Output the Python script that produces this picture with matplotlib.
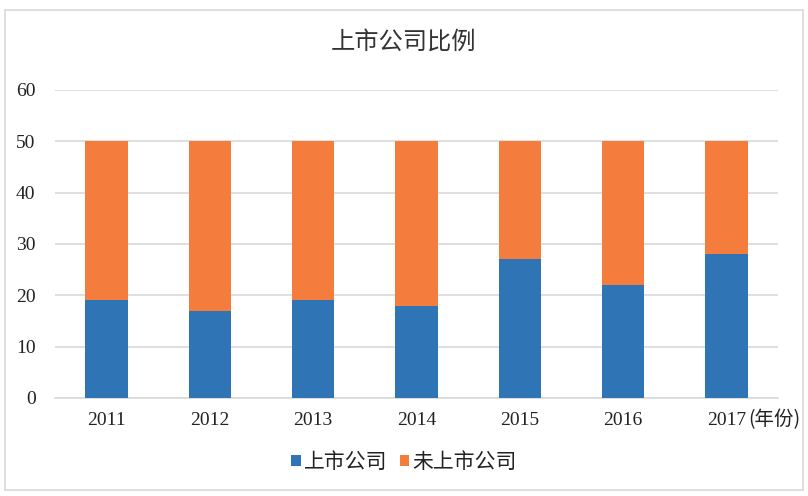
import matplotlib
matplotlib.use("Agg")
import matplotlib.pyplot as plt
from matplotlib.patches import Rectangle

years = ["2011", "2012", "2013", "2014", "2015", "2016", "2017"]
listed = [19, 17, 19, 18, 27, 22, 28]
unlisted = [31, 33, 31, 32, 23, 28, 22]
yticks = [0, 10, 20, 30, 40, 50, 60]

cjk = ["Noto Sans CJK SC", "DejaVu Sans"]
serif = ["Liberation Serif", "DejaVu Serif"]

fig = plt.figure(figsize=(8.08, 4.96), dpi=100)
fig.patches.append(Rectangle((5/808, 6/496), 798/808, 480/496, transform=fig.transFigure,
                             fill=False, edgecolor="#d9d9d9", linewidth=1.2))
ax = fig.add_axes([55/808, 98/496, 723/808, 308/496])

x = list(range(len(years)))
ax.bar(x, listed, width=0.41, color="#2F75B5", label="上市公司", zorder=3)
ax.bar(x, unlisted, width=0.41, bottom=listed, color="#F47C3C", label="未上市公司", zorder=3)

ax.set_xlim(-0.5, 6.5)
ax.set_ylim(0, 60)
ax.set_yticks(yticks)
ax.set_xticks(x)
ax.set_xticklabels(years, fontfamily=serif, fontsize=14)
ax.set_yticklabels([str(v) for v in yticks], fontfamily=serif, fontsize=14)
ax.yaxis.grid(True, color="#d9d9d9", linewidth=1.2, zorder=0)
for s in ["top", "right", "left"]:
    ax.spines[s].set_visible(False)
ax.spines["bottom"].set_color("#d9d9d9")
ax.spines["bottom"].set_linewidth(1.2)
ax.tick_params(axis="both", length=0, colors="#222222")
ax.tick_params(axis="y", pad=14)
ax.tick_params(axis="x", pad=10)

fig.text(748/808, 1 - 420/496, "(年份)", fontfamily=cjk, fontsize=14, color="#222222",
         ha="left", va="center")

fig.text(0.5, 1 - 42/496, "上市公司比例", fontfamily=cjk, fontsize=17.5, color="#333333",
         ha="center", va="center")

leg = fig.legend(loc="center", bbox_to_anchor=(0.5, 1 - 462/496), ncol=2, frameon=False,
                 prop={"family": cjk, "size": 15}, handlelength=0.45, handleheight=0.45,
                 handletextpad=0.15, columnspacing=0.6)
for t in leg.get_texts():
    t.set_color("#222222")

fig.savefig("out.png", dpi=100)
